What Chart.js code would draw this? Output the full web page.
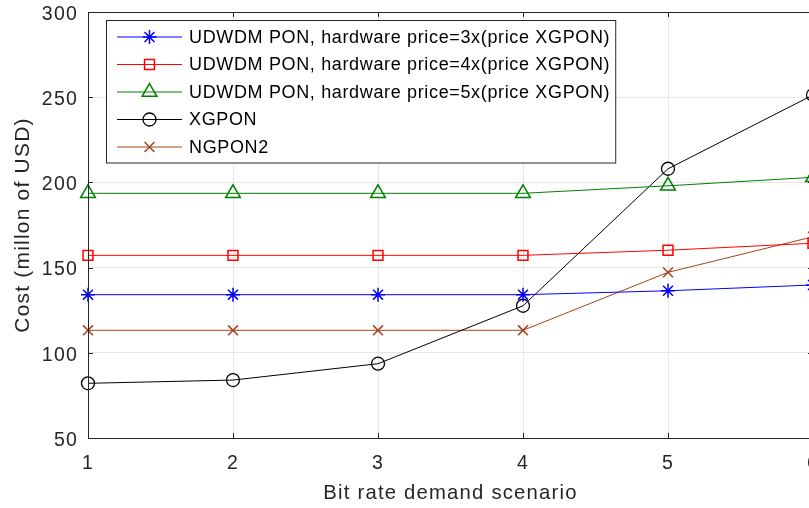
<!DOCTYPE html>
<html>
<head>
<meta charset="utf-8">
<script src="https://cdn.jsdelivr.net/npm/chart.js@4"></script>
<style>
html, body { margin: 0; padding: 0; background: #fff; overflow: hidden; }
#wrap { width: 809px; height: 508px; overflow: hidden; position: relative; }
#chart { position: absolute; left: 0; top: 0; }
</style>
</head>
<body>
<div id="wrap"><canvas id="chart" width="840" height="508"></canvas></div>
<script>
// data
const scenarios = [1, 2, 3, 4, 5, 6];
const udwdm_3x = [134.1, 134.1, 134.1, 134.1, 136.4, 139.8];
const udwdm_4x = [157.2, 157.2, 157.2, 157.2, 160.2, 164.3];
const udwdm_5x = [193.6, 193.6, 193.6, 193.6, 198.0, 203.0];
const xgpon = [82.1, 84.0, 93.6, 127.6, 208.0, 251.3];
const ngpon2 = [113.2, 113.2, 113.2, 113.2, 147.2, 168.1];
const y_ticks = [50, 100, 150, 200, 250, 300];

const axis_color = '#262626';
const grid_color = '#e6e6e6';
const font_family = '"Liberation Sans", Arial, Helvetica, sans-serif';

function to_points(values) {
    return values.map((v, i) => ({x: scenarios[i], y: v}));
}

function make_dataset(label, values, color, style, radius, width) {
    return {
        label: label,
        data: to_points(values),
        borderColor: color,
        borderWidth: 1,
        pointStyle: style,
        pointRadius: radius,
        pointBorderColor: color,
        pointBackgroundColor: 'rgba(0,0,0,0)',
        pointBorderWidth: width,
        tension: 0,
        clip: false,
    };
}

const datasets = [
    make_dataset('UDWDM PON, hardware price=3x(price XGPON)', udwdm_3x, '#0000ff', 'star', 7, 1.5),
    make_dataset('UDWDM PON, hardware price=4x(price XGPON)', udwdm_4x, '#ff0000', 'rect', 7, 1.5),
    make_dataset('UDWDM PON, hardware price=5x(price XGPON)', udwdm_5x, '#008000', 'triangle', 8.5, 1.5),
    make_dataset('XGPON', xgpon, '#000000', 'circle', 6.5, 1.3),
    make_dataset('NGPON2', ngpon2, '#a2441b', 'crossRot', 7, 1.5),
];

// the original figure is a bit stretched sideways, so text is spaced out
const wide_text = {
    id: 'wide_text',
    beforeLayout(chart) { chart.ctx.letterSpacing = '1.2px'; },
    beforeDraw(chart) { chart.ctx.letterSpacing = '1.2px'; },
};

// box, inward ticks and the legend drawn inside the axes
const matlab_box = {
    id: 'matlab_box',
    afterDraw(chart) {
        const ctx = chart.ctx;
        const area = chart.chartArea;
        const xs = chart.scales.x;
        const ys = chart.scales.y;
        ctx.save();
        ctx.strokeStyle = axis_color;
        ctx.lineWidth = 1;
        ctx.beginPath();
        scenarios.forEach(v => {
            const px = Math.round(xs.getPixelForValue(v)) + 0.5;
            ctx.moveTo(px, area.bottom); ctx.lineTo(px, area.bottom - 5);
            ctx.moveTo(px, area.top); ctx.lineTo(px, area.top + 5);
        });
        y_ticks.forEach(v => {
            const py = Math.round(ys.getPixelForValue(v)) + 0.5;
            ctx.moveTo(area.left, py); ctx.lineTo(area.left + 5, py);
            ctx.moveTo(area.right, py); ctx.lineTo(area.right - 5, py);
        });
        ctx.stroke();
        ctx.strokeRect(Math.round(area.left) + 0.5, Math.round(area.top) + 0.5,
            Math.round(area.right - area.left), Math.round(area.bottom - area.top));

        // legend
        ctx.font = '18px ' + font_family;
        ctx.letterSpacing = '0.65px';
        const lx = 106, ly = 20, row_h = 27.5;
        let text_w = 0;
        chart.data.datasets.forEach(ds => { text_w = Math.max(text_w, ctx.measureText(ds.label).width); });
        const box_w = 189 - lx + text_w + 5;
        const box_h = row_h * chart.data.datasets.length + 5;
        ctx.fillStyle = '#ffffff';
        ctx.fillRect(lx, ly, box_w, box_h);
        ctx.strokeStyle = axis_color;
        ctx.strokeRect(lx + 0.5, ly + 0.5, box_w, box_h);
        chart.data.datasets.forEach((ds, i) => {
            const cy = ly + 17 + i * row_h;
            ctx.strokeStyle = ds.borderColor;
            ctx.lineWidth = 1;
            ctx.beginPath();
            ctx.moveTo(117, cy); ctx.lineTo(182, cy);
            ctx.stroke();
            ctx.lineWidth = ds.pointBorderWidth;
            ctx.fillStyle = 'rgba(0,0,0,0)';
            Chart.helpers.drawPoint(ctx, {pointStyle: ds.pointStyle, radius: ds.pointRadius, rotation: 0, borderWidth: ds.pointBorderWidth}, 149.5, cy);
            ctx.fillStyle = '#000000';
            ctx.textAlign = 'left';
            ctx.textBaseline = 'middle';
            ctx.fillText(ds.label, 189, cy + 1);
        });
        ctx.restore();
    }
};

const chart = new Chart(document.getElementById('chart'), {
    type: 'line',
    data: {datasets: datasets},
    options: {
        responsive: false,
        animation: false,
        events: [],
        layout: {padding: {top: 12, right: 27, left: 0, bottom: 0}},
        plugins: {legend: {display: false}, tooltip: {enabled: false}},
        scales: {
            x: {
                type: 'linear',
                min: 1,
                max: 6,
                afterBuildTicks: scale => { scale.ticks = scenarios.map(v => ({value: v})); },
                afterFit: scale => { scale.height = 70; scale.paddingLeft = 0; scale.paddingRight = 0; },
                grid: {color: grid_color, drawTicks: false},
                border: {color: axis_color},
                ticks: {color: axis_color, padding: 14, font: {family: font_family, size: 19.5}},
                title: {display: true, text: 'Bit rate demand scenario', color: axis_color,
                        padding: {top: 4, bottom: 2.5}, font: {family: font_family, size: 20.3}},
            },
            y: {
                type: 'linear',
                min: 50,
                max: 300,
                afterBuildTicks: scale => { scale.ticks = y_ticks.map(v => ({value: v})); },
                afterFit: scale => { scale.width = 88; scale.paddingTop = 0; scale.paddingBottom = 0; },
                grid: {color: grid_color, drawTicks: false},
                border: {color: axis_color},
                ticks: {color: axis_color, padding: 10, labelOffset: 2.5, font: {family: font_family, size: 19.5}},
                title: {display: true, text: 'Cost (millon of USD)', color: axis_color,
                        padding: {top: 10.5, bottom: 4}, font: {family: font_family, size: 21}},
            },
        },
    },
    plugins: [wide_text, matlab_box],
});
</script>
</body>
</html>
